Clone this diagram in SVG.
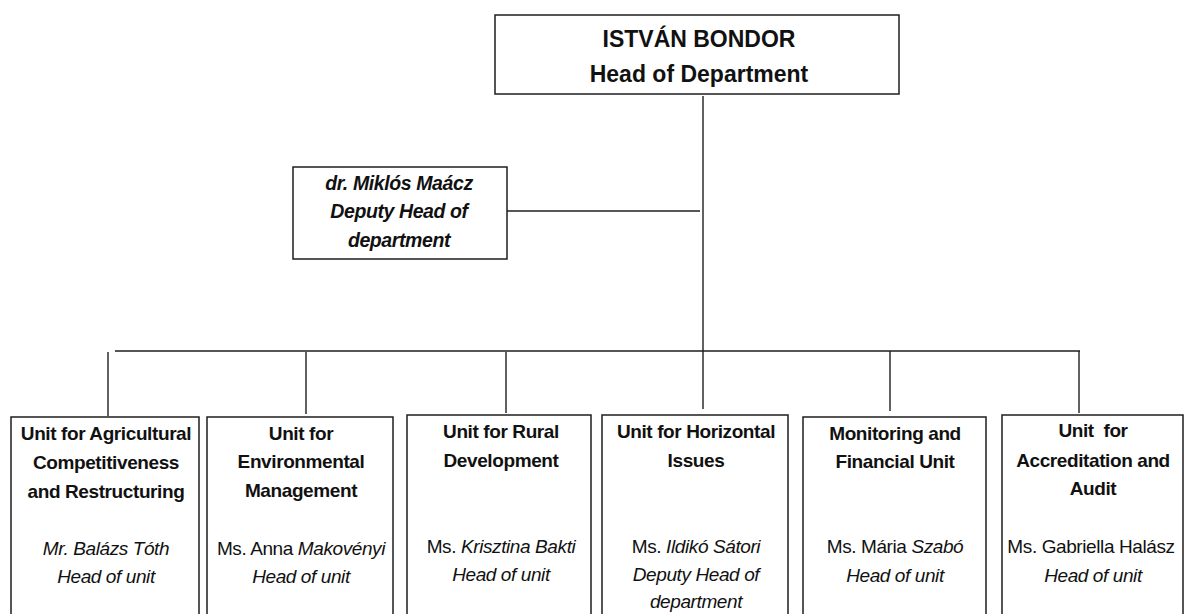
<svg xmlns="http://www.w3.org/2000/svg" width="1185" height="614" viewBox="0 0 1185 614">
<style>
.box{fill:#fff;stroke:#1e1e1e;stroke-width:1.5}
.ln{stroke:#1e1e1e;stroke-width:1.4;fill:none}
text{font-family:"Liberation Sans",Arial,sans-serif;fill:#111;text-anchor:middle}
.top{font-size:23px;font-weight:bold}
.dep{font-size:19.5px;font-weight:bold;font-style:italic;letter-spacing:-0.4px}
.t{font-size:19px;font-weight:bold;letter-spacing:-0.4px}
.n{font-size:19px;letter-spacing:-0.4px}
.i{font-style:italic}
</style>
<rect width="1185" height="614" fill="#fff"/>
<g id="connectors">
<line class="ln" x1="703" y1="96" x2="703" y2="351"/>
<line class="ln" x1="507" y1="211" x2="700" y2="211"/>
<line class="ln" x1="115" y1="351" x2="1080" y2="351"/>
<line class="ln" x1="108" y1="352" x2="108" y2="416"/>
<line class="ln" x1="306" y1="352" x2="306" y2="414"/>
<line class="ln" x1="506" y1="352" x2="506" y2="413"/>
<line class="ln" x1="703" y1="351" x2="703" y2="409"/>
<line class="ln" x1="890" y1="351" x2="890" y2="411"/>
<line class="ln" x1="1079" y1="351" x2="1079" y2="413"/>
</g>
<g id="head">
<rect class="box" x="495" y="15" width="404" height="79"/>
<text class="top" x="699" y="47">ISTVÁN BONDOR</text>
<text class="top" x="699" y="82">Head of Department</text>
</g>
<g id="deputy">
<rect class="box" x="293" y="167" width="214" height="92"/>
<text class="dep" x="399" y="190">dr. Miklós Maácz</text>
<text class="dep" x="399" y="218">Deputy Head of</text>
<text class="dep" x="399" y="247">department</text>
</g>
<g id="unit1">
<rect class="box" x="11" y="417" width="188" height="230"/>
<text class="t" x="106" y="440">Unit for Agricultural</text>
<text class="t" x="106" y="469">Competitiveness</text>
<text class="t" x="106" y="498">and Restructuring</text>
<text class="n i" x="106" y="555">Mr. Balázs Tóth</text>
<text class="n i" x="106" y="583">Head of unit</text>
</g>
<g id="unit2">
<rect class="box" x="207" y="417" width="186" height="230"/>
<text class="t" x="301" y="440">Unit for</text>
<text class="t" x="301" y="468">Environmental</text>
<text class="t" x="301" y="497">Management</text>
<text class="n" x="301" y="555">Ms. Anna <tspan class="i">Makovényi</tspan></text>
<text class="n i" x="301" y="583">Head of unit</text>
</g>
<g id="unit3">
<rect class="box" x="407" y="415" width="184" height="230"/>
<text class="t" x="501" y="438">Unit for Rural</text>
<text class="t" x="501" y="467">Development</text>
<text class="n" x="501" y="553">Ms. <tspan class="i">Krisztina Bakti</tspan></text>
<text class="n i" x="501" y="581">Head of unit</text>
</g>
<g id="unit4">
<rect class="box" x="602" y="415" width="186" height="230"/>
<text class="t" x="696" y="438">Unit for Horizontal</text>
<text class="t" x="696" y="467">Issues</text>
<text class="n" x="696" y="553">Ms. <tspan class="i">Ildikó Sátori</tspan></text>
<text class="n i" x="696" y="581">Deputy Head of</text>
<text class="n i" x="696" y="608">department</text>
</g>
<g id="unit5">
<rect class="box" x="803" y="417" width="183" height="230"/>
<text class="t" x="895" y="440">Monitoring and</text>
<text class="t" x="895" y="468">Financial Unit</text>
<text class="n" x="895" y="553">Ms. Mária <tspan class="i">Szabó</tspan></text>
<text class="n i" x="895" y="582">Head of unit</text>
</g>
<g id="unit6">
<rect class="box" x="1002" y="415" width="181" height="230"/>
<text class="t" x="1093" y="437">Unit&#160; for</text>
<text class="t" x="1093" y="467">Accreditation and</text>
<text class="t" x="1093" y="495">Audit</text>
<text class="n" x="1091" y="553">Ms. Gabriella Halász</text>
<text class="n i" x="1093" y="582">Head of unit</text>
</g>
</svg>
